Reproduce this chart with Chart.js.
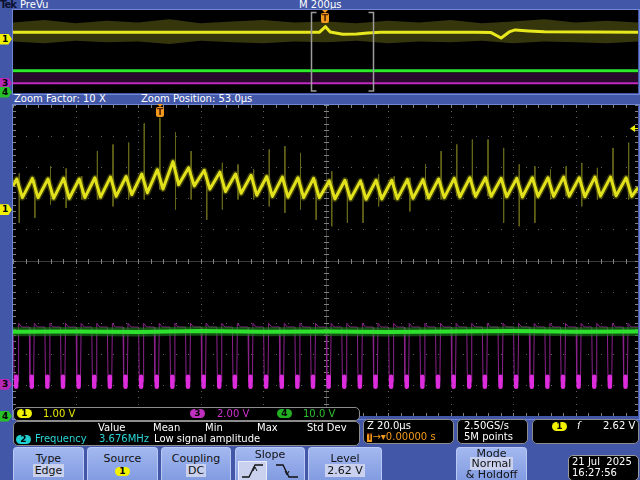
<!DOCTYPE html>
<html>
<head>
<meta charset="utf-8">
<script src="https://cdn.jsdelivr.net/npm/chart.js@4"></script>
<style>
  body { margin:0; background:#4357a8; }
  #scope { position:relative; width:640px; height:480px; overflow:hidden; background:#4357a8;
           font-family:"DejaVu Sans", sans-serif; font-size:10px; color:#fff; }
  .a { position:absolute; white-space:pre; line-height:11px; }
  canvas { position:absolute; background:#000; }
  .frame { position:absolute; border:1px solid #7087d6; }
  .box { position:absolute; background:#000; border:1px solid #8c8c8c; border-radius:5px; }
  .pill { position:absolute; width:15px; height:9px; border-radius:5px; color:#000; font-size:9px;
          line-height:9px; text-align:center; font-weight:bold; }
  .btn { position:absolute; top:447px; height:34px; background:linear-gradient(#a3b8f0,#809ae0);
         border:1px solid #b9c8f4; border-bottom:none; border-radius:4px 4px 0 0; color:#111;
         font-size:11px; text-align:center; }
  .btn .l { position:absolute; left:0; right:0; line-height:12px; }
  .hl { background:#c9d1ef; padding:0 2px; }
  .mk { position:absolute; width:12px; height:11px; font-size:9px; font-weight:bold; line-height:11px;
        color:#000; padding-left:2px; box-sizing:border-box;
        clip-path:polygon(0 0,70% 0,100% 50%,70% 100%,0 100%); }
  .tmark { position:absolute; width:9px; }
  .tmark .tri { width:0; height:0; margin-left:1px; border-left:3.5px solid transparent;
                border-right:3.5px solid transparent; border-top:3px solid #f39a1e; }
  .tmark .bx { width:8px; height:10px; background:#f39a1e; border-radius:2px; color:#5a2500;
               font-size:9px; font-weight:bold; line-height:10px; text-align:center; }
</style>
</head>
<body>
<div id="scope">
  <!-- top bar -->
  <div class="a" style="left:0;top:-1px;font-weight:bold;font-size:10px;letter-spacing:-1px;color:#0c1230;">Tek</div>
  <div class="a" style="left:20px;top:-1px;">PreVu</div>
  <div class="a" style="left:299px;top:-1px;">M 200µs</div>

  <!-- overview -->
  <div class="frame" style="left:12px;top:9px;width:626px;height:84px;"></div>
  <canvas id="overview" width="625" height="83" style="left:13px;top:10px;"></canvas>

  <div class="a" style="left:14px;top:93px;">Zoom Factor: 10 X</div>
  <div class="a" style="left:141px;top:93px;">Zoom Position: 53.0µs</div>

  <!-- zoom window -->
  <div class="frame" style="left:12px;top:104px;width:626px;height:314px;"></div>
  <canvas id="zoom" width="625" height="311" style="left:13px;top:105px;"></canvas>

  <!-- channel scale readout -->
  <div class="box" style="left:13px;top:407px;width:345px;height:12px;"></div>
  <div class="pill" style="left:17px;top:409px;background:#f2f200;">1</div>
  <div class="a" style="left:43px;top:408px;color:#e8e800;">1.00 V</div>
  <div class="pill" style="left:190px;top:409px;background:#c030c0;">3</div>
  <div class="a" style="left:217px;top:408px;color:#d030d0;">2.00 V</div>
  <div class="pill" style="left:277px;top:409px;background:#22b022;">4</div>
  <div class="a" style="left:303px;top:408px;color:#2ec02e;">10.0 V</div>

  <!-- measurement -->
  <div class="box" style="left:13px;top:421px;width:345px;height:23px;"></div>
  <div class="a" style="left:98px;top:422px;">Value</div>
  <div class="a" style="left:153px;top:422px;">Mean</div>
  <div class="a" style="left:205px;top:422px;">Min</div>
  <div class="a" style="left:257px;top:422px;">Max</div>
  <div class="a" style="left:307px;top:422px;">Std Dev</div>
  <div class="pill" style="left:16px;top:435px;background:#20d0d0;">2</div>
  <div class="a" style="left:35px;top:433px;color:#2ad4d4;">Frequency</div>
  <div class="a" style="left:99px;top:433px;color:#2ad4d4;">3.676MHz</div>
  <div class="a" style="left:154px;top:433px;">Low signal amplitude</div>

  <!-- horizontal / acquisition / trigger readouts -->
  <div class="box" style="left:363px;top:419px;width:89px;height:23px;"></div>
  <div class="a" style="left:367px;top:420px;">Z 20.0µs</div>
  <div class="a" style="left:367px;top:431px;color:#f39a1e;"><span style="background:#f39a1e;color:#5a2500;font-size:8px;font-weight:bold;">T</span>→▾0.00000 s</div>
  <div class="box" style="left:457px;top:419px;width:69px;height:23px;"></div>
  <div class="a" style="left:464px;top:420px;">2.50GS/s</div>
  <div class="a" style="left:464px;top:431px;">5M points</div>
  <div class="box" style="left:532px;top:419px;width:105px;height:23px;"></div>
  <div class="pill" style="left:552px;top:422px;background:#f2f200;">1</div>
  <div class="a" style="left:577px;top:420px;font-style:italic;">ſ</div>
  <div class="a" style="left:603px;top:420px;">2.62 V</div>

  <!-- buttons -->
  <div class="btn" style="left:13px;width:69px;"><div class="l" style="top:5px;">Type</div><div class="l" style="top:17px;"><span class="hl">Edge</span></div></div>
  <div class="btn" style="left:87px;width:69px;"><div class="l" style="top:5px;">Source</div>
    <div class="pill" style="left:27px;top:19px;background:#f2f200;">1</div></div>
  <div class="btn" style="left:161px;width:68px;"><div class="l" style="top:5px;">Coupling</div><div class="l" style="top:17px;"><span class="hl">DC</span></div></div>
  <div class="btn" style="left:235px;width:68px;"><div class="l" style="top:1px;">Slope</div>
    <svg style="position:absolute;left:2px;top:13px;" width="64" height="20">
      <rect x="0.5" y="0.5" width="28" height="19" fill="#c9d1ef" stroke="#e8ecfa"/>
      <polyline points="4,16 11,16 17,4 25,4" fill="none" stroke="#111" stroke-width="1.3"/>
      <polyline points="15,10 17,6 19,10" fill="none" stroke="#111" stroke-width="1"/>
      <polyline points="38,4 45,4 51,16 60,16" fill="none" stroke="#111" stroke-width="1.3"/>
      <polyline points="47,10 49,14 51,10" fill="none" stroke="#111" stroke-width="1"/>
    </svg></div>
  <div class="btn" style="left:308px;width:72px;"><div class="l" style="top:5px;">Level</div><div class="l" style="top:17px;"><span class="hl">2.62 V</span></div></div>
  <div class="btn" style="left:456px;width:69px;"><div class="l" style="top:0px;">Mode</div><div class="l" style="top:10px;"><span class="hl">Normal</span></div><div class="l" style="top:21px;">&amp; Holdoff</div></div>
  <div class="box" style="left:568px;top:455px;width:69px;height:24px;border-color:#9a9a9a;"></div>
  <div class="a" style="left:572px;top:456px;">21 Jul  2025</div>
  <div class="a" style="left:572px;top:467px;">16:27:56</div>

  <!-- trigger position markers -->
  <div class="tmark" style="left:321px;top:10px;"><div class="tri"></div><div class="bx">T</div></div>
  <div class="tmark" style="left:156px;top:104px;"><div class="tri"></div><div class="bx">T</div></div>
</div>

<script>
// zoom window: time in µs from trigger, vertical in divisions
const zoomRange = [-47, 153];
const overviewRange = [-1000, 1000];

// switching events every 5 µs (spikes on ch1, pulses on ch3)
const pulseT = [-45, -40, -35, -30, -25, -20, -15, -10, -5, 0, 5, 10, 15, 20, 25, 30, 35, 40, 45, 50,
  55, 60, 65, 70, 75, 80, 85, 90, 95, 100, 105, 110, 115, 120, 125, 130, 135, 140, 145, 150];
const spikeTop = [2.80, 2.60, 3.03, 2.96, 2.71, 3.52, 3.73, 3.79, 4.41, 4.59, 4.13, 3.52, 2.82, 3.14, 3.09, 2.93, 3.57, 3.68, 3.46, 2.60,
  2.87, 2.60, 2.49, 2.77, 2.71, 2.66, 3.09, 3.52, 3.73, 3.89, 3.89, 3.62, 3.09, 3.03, 2.93, 3.03, 3.14, 2.98, 3.62, 3.79];
const spikeBot = [1.21, 1.37, 1.80, 1.69, 1.96, 1.96, 1.74, 1.96, 1.96, 2.28, 1.64, 1.96, 1.31, 1.64, 1.96, 1.96, 1.74, 1.53, 1.64, 1.31,
  1.10, 1.21, 1.21, 1.74, 1.96, 1.58, 1.96, 1.96, 2.07, 2.12, 2.07, 1.21, 1.10, 1.21, 1.96, 2.07, 1.74, 1.96, 2.07, 1.96];
// ch1 ripple: peak just before each event, trough just after
const ch1Peak = [2.62, 2.64, 2.62, 2.64, 2.62, 2.66, 2.68, 2.70, 2.78, 2.92, 3.18, 2.98, 2.90, 2.84, 2.78, 2.74, 2.70, 2.68, 2.66, 2.64,
  2.56, 2.58, 2.56, 2.58, 2.58, 2.60, 2.60, 2.62, 2.64, 2.66, 2.66, 2.64, 2.64, 2.66, 2.66, 2.68, 2.66, 2.68, 2.68, 2.66];
const ch1Trough = [2.02, 2.02, 2.00, 2.00, 2.02, 2.04, 2.06, 2.12, 2.18, 2.30, 2.44, 2.40, 2.30, 2.22, 2.16, 2.10, 2.06, 2.04, 2.02, 2.02,
  1.98, 1.98, 1.97, 1.98, 1.99, 2.00, 2.01, 2.02, 2.04, 2.06, 2.06, 2.05, 2.04, 2.06, 2.06, 2.07, 2.05, 2.07, 2.08, 2.06];
const ch1Ends = [2.40, 2.34];
// ch3 levels: high, overshoot, low, blob top, blob bottom
const ch3Levels = [-2.14, -2.02, -3.9, -3.74, -4.06];
// ch4 almost flat
const ch4T = [-47, -27, -7, 13, 33, 53, 73, 93, 113, 133, 153];
const ch4V = [-2.29, -2.28, -2.30, -2.27, -2.29, -2.28, -2.30, -2.28, -2.27, -2.29, -2.28];
// markers (divisions)
const ch1Offset = 1.63, ch3Offset = -3.98, trigLevel = 4.25;

// overview (2 ms record)
const ovYellowT = [-1000, -500, -20, 0, 15, 55, 100, 135, 175, 480, 530, 562, 590, 607, 650, 700, 1000];
const ovYellowV = [2.31, 2.31, 2.31, 2.99, 2.35, 2.07, 2.12, 2.24, 2.31, 2.31, 2.28, 1.62, 2.40, 2.60, 2.48, 2.38, 2.33];
const ovEnvT = [-1000, -900, -800, -700, -600, -500, -400, -300, -200, -100, 0, 100, 200, 300, 400, 500, 600, 700, 800, 900, 1000];
const ovEnvTop = [3.5, 3.8, 3.4, 3.7, 3.5, 3.9, 3.4, 3.6, 3.8, 3.5, 3.6, 3.4, 3.7, 3.5, 3.8, 3.4, 3.6, 3.9, 3.5, 3.7, 3.5];
const ovEnvBot = [1.2, 1.0, 1.3, 1.1, 1.2, 0.9, 1.3, 1.1, 1.0, 1.2, 1.1, 1.3, 1.0, 1.2, 1.1, 1.3, 1.0, 1.2, 1.1, 1.0, 1.2];
const ovCh4 = -2.31, ovCh3 = -3.83, ovCh3Band = [-2.55, -3.7];

// ---------- build datasets ----------
const spikeData = [];
pulseT.forEach((t, i) => spikeData.push({x: t, y: spikeTop[i]}, {x: t, y: spikeBot[i]}, {x: t, y: null}));

const ch1Data = [{x: zoomRange[0], y: ch1Ends[0]}];
pulseT.forEach((t, i) => ch1Data.push({x: t - 0.8, y: ch1Peak[i]}, {x: t + 1.0, y: ch1Trough[i]}));
ch1Data.push({x: zoomRange[1], y: ch1Ends[1]});

const [hi, over, low, blobTop, blobBot] = ch3Levels;
const ch3Data = [{x: zoomRange[0], y: hi}];
const ch3Blobs = [];
pulseT.forEach(t => {
  ch3Data.push({x: t - 1.8, y: hi}, {x: t - 1.6, y: low}, {x: t - 0.4, y: low}, {x: t - 0.2, y: over}, {x: t + 0.8, y: hi});
  ch3Blobs.push({x: t - 1.0, y: blobTop}, {x: t - 1.0, y: blobBot}, {x: t - 1.0, y: null});
});
ch3Data.push({x: zoomRange[1], y: hi});

const ch4Data = ch4T.map((t, i) => ({x: t, y: ch4V[i]}));

const graticule = {
  id: 'graticule',
  beforeDatasetsDraw(chart) {
    const {ctx, chartArea: a, scales: {x, y}} = chart;
    const X = v => Math.round(x.getPixelForValue(v));
    const Y = v => Math.round(y.getPixelForValue(v));
    ctx.save();
    // dotted division lines
    ctx.fillStyle = '#5e5e5e';
    for (let d = 0; d <= 10; d++) {
      const py = Y(-5 + d), px = X(zoomRange[0] + d * 20);
      for (let k = 0; k <= 50; k++) {
        ctx.fillRect(X(zoomRange[0] + k * 4), py, 1, 1);
        ctx.fillRect(px, Y(-5 + k * 0.2), 1, 1);
      }
    }
    // centre crosshair
    const cx = X((zoomRange[0] + zoomRange[1]) / 2), cy = Y(0);
    ctx.fillStyle = '#3a3a3a';
    ctx.fillRect(a.left, cy, a.right - a.left, 1);
    ctx.fillRect(cx, a.top, 1, a.bottom - a.top);
    ctx.fillStyle = '#808080';
    for (let k = 0; k <= 50; k++) {
      const px = X(zoomRange[0] + k * 4), py = Y(-5 + k * 0.2);
      ctx.fillRect(px, cy - 2, 1, 5);
      ctx.fillRect(cx - 2, py, 5, 1);
      ctx.fillRect(px, a.top, 1, 3);
      ctx.fillRect(px, a.bottom - 3, 1, 3);
      ctx.fillRect(a.left, py, 3, 1);
      ctx.fillRect(a.right - 3, py, 3, 1);
    }
    ctx.restore();
  },
  afterDatasetsDraw(chart) {
    const {ctx, chartArea: a, scales: {y}} = chart;
    const py = Math.round(y.getPixelForValue(trigLevel)) + 0.5;
    ctx.save();
    ctx.fillStyle = '#f0f000';
    ctx.beginPath();
    ctx.moveTo(a.right - 8, py); ctx.lineTo(a.right - 3, py - 3.5); ctx.lineTo(a.right - 3, py + 3.5);
    ctx.closePath(); ctx.fill();
    ctx.fillRect(a.right - 3, py - 0.5, 3, 1);
    ctx.restore();
  }
};

const common = {
  responsive: false,
  animation: false,
  layout: {padding: 0},
  elements: {point: {radius: 0}, line: {tension: 0, borderJoinStyle: 'round', fill: false}},
  plugins: {legend: {display: false}, tooltip: {enabled: false}}
};

const zoomChart = new Chart(document.getElementById('zoom'), {
  type: 'line',
  data: {
    datasets: [
      {label: 'ch4', data: ch4Data, borderColor: '#2ee02e', borderWidth: 4, order: 1},
      {label: 'ch4 glow', data: ch4Data, borderColor: 'rgba(30,130,30,0.6)', borderWidth: 9, order: 2},
      {label: 'ch1', data: ch1Data, borderColor: '#e2e21c', borderWidth: 3, order: 3},
      {label: 'ch1 glow', data: ch1Data, borderColor: 'rgba(130,130,10,0.45)', borderWidth: 6, order: 4},
      {label: 'ch1 spikes', data: spikeData, borderColor: '#66661a', borderWidth: 1, spanGaps: false, order: 5},
      {label: 'ch3 pulses', data: ch3Blobs, borderColor: '#dc2cdc', borderWidth: 4.5, borderCapStyle: 'butt', spanGaps: false, order: 6},
      {label: 'ch3', data: ch3Data, borderColor: '#8c228c', borderWidth: 1, order: 7}
    ]
  },
  options: {
    ...common,
    scales: {
      x: {type: 'linear', min: zoomRange[0], max: zoomRange[1], display: false},
      y: {min: -5, max: 5, display: false}
    }
  },
  plugins: [graticule]
});

const bracket = {
  id: 'bracket',
  afterDatasetsDraw(chart) {
    const {ctx, chartArea: a, scales: {x}} = chart;
    ctx.save();
    ctx.strokeStyle = '#9c9c9c';
    ctx.lineWidth = 1.5;
    zoomRange.forEach((v, i) => {
      const px = Math.round(x.getPixelForValue(v)) + 0.5;
      const s = i === 0 ? 5 : -5;
      ctx.beginPath();
      ctx.moveTo(px + s, a.top + 2.5); ctx.lineTo(px, a.top + 2.5);
      ctx.lineTo(px, a.bottom - 2); ctx.lineTo(px + s, a.bottom - 2);
      ctx.stroke();
    });
    ctx.restore();
  }
};

const flat = v => overviewRange.map(t => ({x: t, y: v}));
new Chart(document.getElementById('overview'), {
  type: 'line',
  data: {
    datasets: [
      {label: 'env top', data: ovEnvT.map((t, i) => ({x: t, y: ovEnvTop[i]})), borderWidth: 0, fill: '+1', backgroundColor: '#36360c', order: 6},
      {label: 'env bottom', data: ovEnvT.map((t, i) => ({x: t, y: ovEnvBot[i]})), borderWidth: 0, order: 7},
      {label: 'ch3 band top', data: flat(ovCh3Band[0]), borderWidth: 0, fill: '+1', backgroundColor: '#2a0a2c', order: 8},
      {label: 'ch3 band bottom', data: flat(ovCh3Band[1]), borderWidth: 0, order: 9},
      {label: 'ch1', data: ovYellowT.map((t, i) => ({x: t, y: ovYellowV[i]})), borderColor: '#e8e81e', borderWidth: 3, order: 1},
      {label: 'ch3', data: flat(ovCh3), borderColor: '#c42ac4', borderWidth: 2, order: 3},
      {label: 'ch4', data: flat(ovCh4), borderColor: '#2ee82e', borderWidth: 3, order: 2}
    ]
  },
  options: {
    ...common,
    scales: {
      x: {type: 'linear', min: overviewRange[0], max: overviewRange[1], display: false},
      y: {min: -5, max: 5, display: false}
    }
  },
  plugins: [bracket]
});

// channel markers on the left bezel
function marker(n, color, top) {
  const d = document.createElement('div');
  d.className = 'mk';
  d.textContent = n;
  d.style.background = color;
  d.style.left = '0px';
  d.style.top = (top - 5.5) + 'px';
  document.getElementById('scope').appendChild(d);
}
const zy = zoomChart.scales.y;
marker('1', '#f0f000', 105 + zy.getPixelForValue(ch1Offset));
marker('3', '#b828b8', 105 + zy.getPixelForValue(ch3Offset));
marker('4', '#28c028', 416);
marker('1', '#f0f000', 39);
marker('3', '#b828b8', 83);
marker('4', '#28c028', 92);
</script>
</body>
</html>
